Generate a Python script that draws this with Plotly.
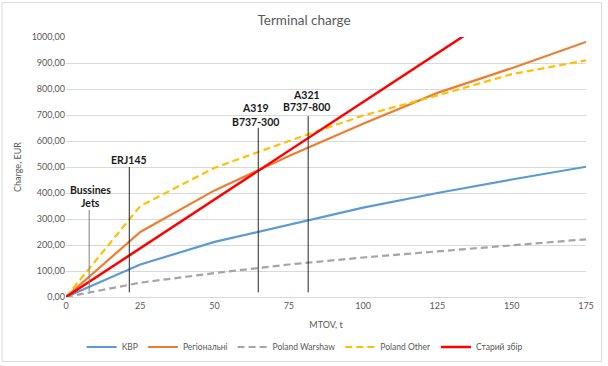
import plotly.graph_objects as go

# ---- data ----
mtov = [0, 25, 50, 75, 100, 125, 150, 175]
kbp = [0, 125, 212, 278, 344, 400, 452, 501]
regional = [0, 250, 410, 542, 666, 785, 880, 981]
poland_warshaw = [0, 55, 92, 125, 152, 175, 199, 222]
poland_other = [0, 350, 497, 600, 698, 775, 857, 910]
old_fee = [0, 187.5, 375, 562.5, 750, 937.5, 1125, 1312.5]

series_names = ["KBP", "Регіональні", "Poland Warshaw", "Poland Other", "Старий збір"]

# aircraft markers (MTOV, t)
aircraft_mtov = [7.8, 21.3, 64.7, 81.5]
aircraft_line_top = [335, 500, 651, 696]
aircraft_line_bottom = [22, 18, 18, 18]
aircraft_labels = [["Bussines", "Jets"], ["ERJ145"], ["A319", "B737-300"], ["A321", "B737-800"]]
aircraft_label_y = [[411, 361], [527], [727, 672], [778, 730]]
aircraft_label_x = [8.4, 21.3, 63.8, 80.8]

y_ticks = [0, 100, 200, 300, 400, 500, 600, 700, 800, 900, 1000]
x_ticks = [0, 25, 50, 75, 100, 125, 150, 175]

FONT = "Lato"
GREY_TXT = "#595959"

fig = go.Figure()

styles = [
    dict(color="#5B9BD5", width=2.2, dash="solid"),
    dict(color="#ED7D31", width=2.2, dash="solid"),
    dict(color="#A5A5A5", width=2.2, dash="7px,4px"),
    dict(color="#FFC000", width=2.2, dash="7px,4px"),
    dict(color="#FF0000", width=2.5, dash="solid"),
]
for name, ys, st in zip(series_names, [kbp, regional, poland_warshaw, poland_other, old_fee], styles):
    fig.add_trace(go.Scatter(x=mtov, y=ys, mode="lines", name=name, line=st, cliponaxis=True))

# vertical aircraft lines
for i, (xv, top, bot) in enumerate(zip(aircraft_mtov, aircraft_line_top, aircraft_line_bottom)):
    fig.add_shape(type="line", xref="x", yref="y", x0=xv, x1=xv, y0=bot, y1=top,
                  line=dict(color="#7f7f7f" if i == 0 else "#262626", width=1))

for labels, ys, xv in zip(aircraft_labels, aircraft_label_y, aircraft_label_x):
    for lab, yv in zip(labels, ys):
        fig.add_annotation(x=xv, y=yv, xref="x", yref="y", text="<b>%s</b>" % lab, showarrow=False,
                           font=dict(family=FONT, size=10.5, color="#1a1a1a"), xanchor="center", yanchor="middle")

# outer chart border
fig.add_shape(type="rect", xref="paper", yref="paper", x0=-0.123, x1=1.030, y0=-0.248, y1=1.132,
              line=dict(color="#d9d9d9", width=1), layer="below")

fig.update_layout(
    width=608, height=366,
    margin=dict(l=66, r=22, t=37, b=69, autoexpand=False),
    paper_bgcolor="white", plot_bgcolor="white",
    separators=",.",
    title=dict(text="Terminal charge", x=0.5, xanchor="center", y=1 - 20 / 366, yanchor="middle",
               font=dict(family=FONT, size=13.5, color=GREY_TXT)),
    font=dict(family=FONT, size=9, color=GREY_TXT),
    showlegend=True,
    legend=dict(orientation="h", x=0.459, xanchor="center", yref="container", y=1 - 347 / 366,
                yanchor="middle", tracegroupgap=0,
                font=dict(family=FONT, size=8.5, color=GREY_TXT), bgcolor="rgba(0,0,0,0)"),
    xaxis=dict(range=[0, 175], tickvals=x_ticks, showgrid=False, zeroline=False, automargin=False,
               showline=True, linecolor="#d9d9d9", linewidth=1, ticks="",
               title=dict(text="MTOV, t", font=dict(family=FONT, size=9, color=GREY_TXT), standoff=11),
               tickfont=dict(family=FONT, size=9, color=GREY_TXT)),
    yaxis=dict(range=[0, 1000], tickvals=y_ticks, tickformat=".2f", showgrid=True, gridcolor="#d9d9d9",
               gridwidth=1, zeroline=False, showline=False, ticks="", automargin=False,
               title=dict(text="Charge, EUR", font=dict(family=FONT, size=9, color=GREY_TXT), standoff=8),
               tickfont=dict(family=FONT, size=9, color=GREY_TXT)),
)

fig.write_html("out.html", post_script="document.body.style.margin='0';",
               config={"displayModeBar": False})
